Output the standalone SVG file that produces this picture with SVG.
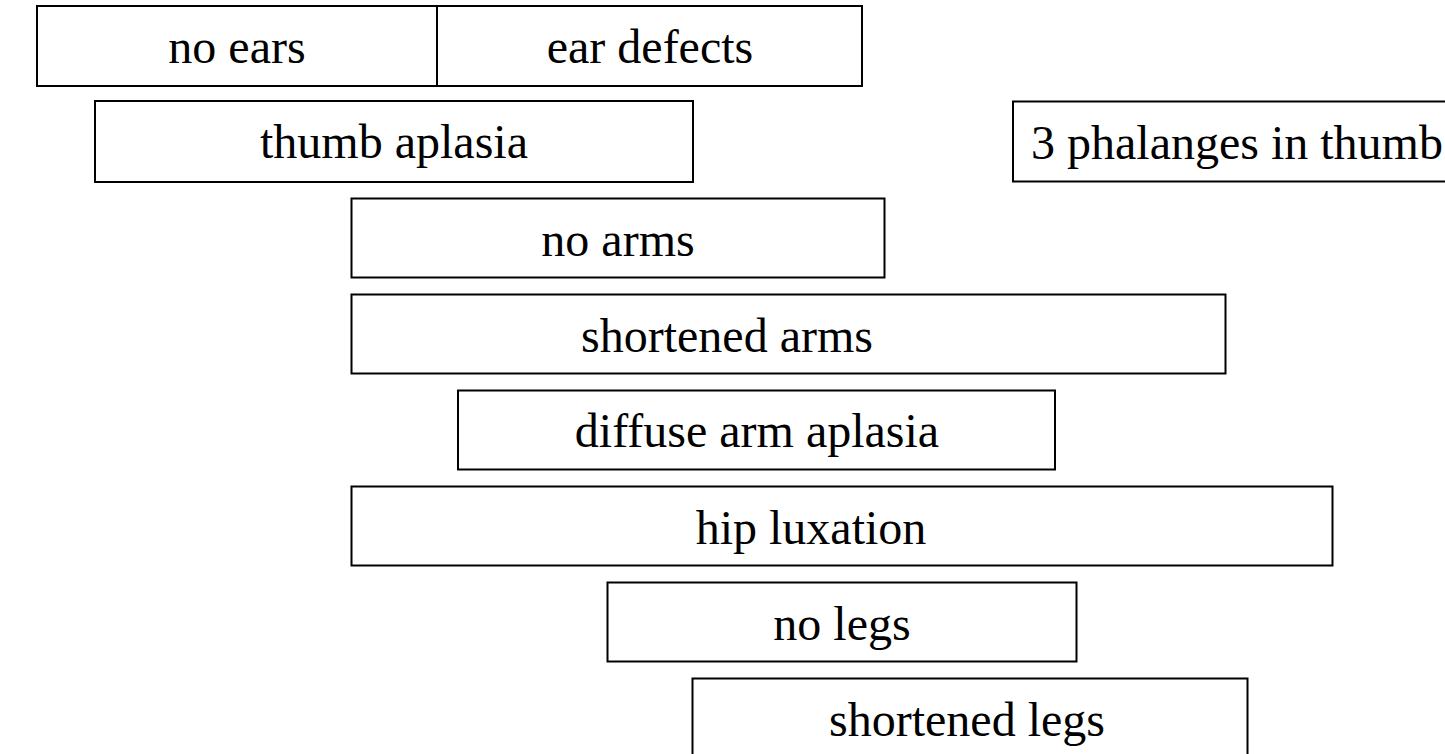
<svg xmlns="http://www.w3.org/2000/svg" width="1445" height="754" viewBox="0 0 1445 754">
<style>
rect{fill:#fff;stroke:#000;stroke-width:2}
text{font-family:"Liberation Serif","Times New Roman",serif;font-size:48px;fill:#000;text-anchor:middle}
</style>
<rect x="0" y="0" width="1445" height="754" style="stroke:none"/>
<g id="connectors"/>
<g id="no-ears"><rect x="37" y="6" width="400" height="80"/><text x="237" y="63">no ears</text></g>
<g id="ear-defects"><rect x="437" y="6" width="425" height="80"/><text x="650" y="63">ear defects</text></g>
<g id="thumb-aplasia"><rect x="95" y="101" width="598" height="81"/><text x="394" y="158">thumb aplasia</text></g>
<g id="three-phalanges"><rect x="1013" y="101.5" width="450" height="80"/><text x="1031" y="159" style="text-anchor:start">3 phalanges in thumb</text></g>
<g id="no-arms"><rect x="351.5" y="198.5" width="533" height="79"/><text x="618" y="255.5">no arms</text></g>
<g id="shortened-arms"><rect x="351.5" y="294.5" width="874" height="79"/><text x="727" y="351.5">shortened arms</text></g>
<g id="diffuse-arm-aplasia"><rect x="458" y="390.5" width="597" height="79"/><text x="757" y="447">diffuse arm aplasia</text></g>
<g id="hip-luxation"><rect x="351.5" y="486.5" width="981" height="79"/><text x="811" y="543.5">hip luxation</text></g>
<g id="no-legs"><rect x="607.5" y="582.5" width="469" height="79"/><text x="842" y="639.5">no legs</text></g>
<g id="shortened-legs"><rect x="692.5" y="678.5" width="555" height="80"/><text x="967" y="735.5">shortened legs</text></g>
</svg>
